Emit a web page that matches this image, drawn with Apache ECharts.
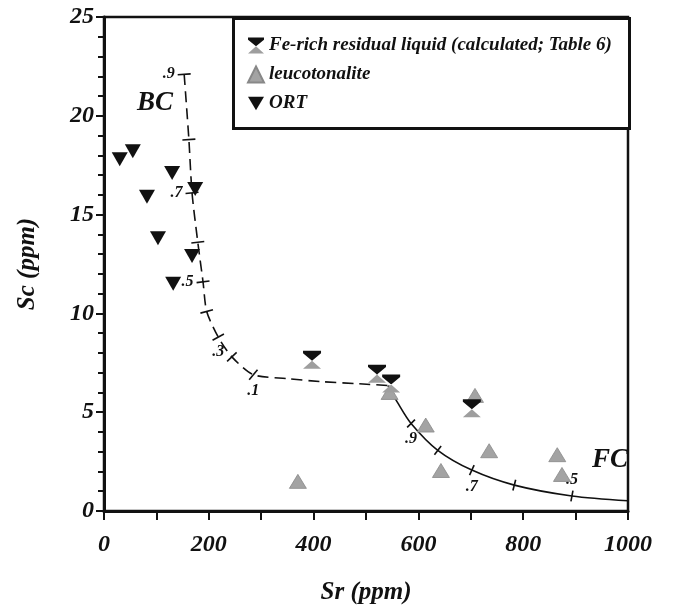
<!DOCTYPE html>
<html>
<head>
<meta charset="utf-8">
<script src="https://cdn.jsdelivr.net/npm/echarts@6/dist/echarts.min.js"></script>
<style>
  html, body { margin: 0; padding: 0; background: #fff; }
  #chart { width: 675px; height: 610px; }
</style>
</head>
<body>
<div id="chart"></div>
<script>
  'use strict'

  // Sr (ppm), Sc (ppm)
  var feRich = [[397, 7.65], [521, 6.95], [548, 6.45], [702, 5.2]];
  var leuco = [[708, 5.85], [614, 4.35], [735, 3.05], [643, 2.05], [370, 1.5], [865, 2.85], [874, 1.85], [545, 6.0]];
  var ort = [[30, 17.8], [55, 18.2], [82, 15.9], [103, 13.8], [130, 17.1], [174, 16.3], [168, 12.9], [132, 11.5]];

  // model curves: F values at the tick marks
  var bcF = ['.9', '.8', '.7', '.6', '.5', '.4', '.3', '.2', '.1'];
  var bcTicks = [[153, 22.1], [162, 18.8], [168, 16.1], [179, 13.6], [189, 11.6], [196, 10.1], [218, 8.8], [244, 7.8], [285, 6.9]];
  var bcTail = [[350, 6.7], [412, 6.55], [480, 6.45], [542, 6.35]];
  var fcF = ['.9', '.8', '.7', '.6', '.5'];
  var fcTicks = [[586, 4.43], [637, 3.07], [702, 2.07], [783, 1.31], [893, 0.76]];
  var fcHead = [[542, 6.35], [560, 5.5]];
  var fcTail = [[1000, 0.52]];

  var serif = '"Liberation Serif", "DejaVu Serif", serif';
  var G = { left: 104, right: 47, top: 17, bottom: 97 };
  var pxX = (675 - G.left - G.right) / 1000;
  var pxY = (610 - G.top - G.bottom) / 25;

  // short bar perpendicular to the curve at each tick
  function tickAngle(pts, i) {
    var a = pts[Math.max(i - 1, 0)], b = pts[Math.min(i + 1, pts.length - 1)];
    var dx = (b[0] - a[0]) * pxX, dy = (b[1] - a[1]) * pxY;
    return Math.atan2(dy, dx) * 180 / Math.PI + 90;
  }

  function tickData(pts, names, labelPos) {
    return pts.map(function (p, i) {
      var pos = labelPos[names[i]];
      return {
        value: p,
        symbolRotate: tickAngle(pts, i),
        label: { show: !!pos, position: pos || 'left', formatter: names[i] }
      };
    });
  }

  var tickSymbol = 'path://M0,0 L12,0 L12,1.6 L0,1.6 Z';
  var downTri = 'path://M0,0 L12,0 L6,10 Z';
  var hourglass = 'path://M0,0 L12,0 L12,1.6 L6,6.6 L0,1.6 Z M6,6.6 L12,12 L0,12 Z';

  var tickLabel = { fontFamily: serif, fontStyle: 'italic', fontWeight: 'bold', fontSize: 16, color: '#111', distance: 3 };

  var option = {
    animation: false,
    grid: { left: G.left, right: G.right, top: G.top, bottom: G.bottom, show: true, borderColor: '#111', borderWidth: 2.5 },
    xAxis: {
      type: 'value', min: 0, max: 1000, interval: 200,
      name: 'Sr (ppm)', nameLocation: 'middle', nameGap: 69,
      nameTextStyle: { fontFamily: serif, fontStyle: 'italic', fontWeight: 'bold', fontSize: 25, color: '#111' },
      axisLine: { lineStyle: { color: '#111', width: 3 } },
      axisTick: { length: 9, lineStyle: { color: '#111', width: 2 } },
      minorTick: { show: true, splitNumber: 2, length: 9, lineStyle: { color: '#111', width: 2 } },
      splitLine: { show: false },
      axisLabel: {
        margin: 22, fontFamily: serif, fontStyle: 'italic', fontWeight: 'bold', fontSize: 24, color: '#111',
        formatter: function (v) { return String(v); }
      }
    },
    yAxis: {
      type: 'value', min: 0, max: 25, interval: 5,
      name: 'Sc (ppm)', nameLocation: 'middle', nameGap: 64, nameRotate: 90,
      nameTextStyle: { fontFamily: serif, fontStyle: 'italic', fontWeight: 'bold', fontSize: 25, color: '#111' },
      axisLine: { lineStyle: { color: '#111', width: 3 } },
      axisTick: { length: 8, lineStyle: { color: '#111', width: 2 } },
      minorTick: { show: true, splitNumber: 5, length: 6, lineStyle: { color: '#111', width: 2 } },
      splitLine: { show: false },
      axisLabel: { margin: 10, fontFamily: serif, fontStyle: 'italic', fontWeight: 'bold', fontSize: 24, color: '#111' }
    },
    legend: {
      orient: 'vertical', left: 242, top: 31, itemGap: 10,
      itemWidth: 16, itemHeight: 16, z: 10,
      data: ['Fe-rich residual liquid (calculated; Table 6)', 'leucotonalite', 'ORT'],
      textStyle: { fontFamily: serif, fontStyle: 'italic', fontWeight: 'bold', fontSize: 19, color: '#111' }
    },
    graphic: [
      { type: 'rect', left: 232, top: 17, z: 5, shape: { width: 396, height: 110 }, style: { fill: '#fff', stroke: '#111', lineWidth: 3 } },
      { type: 'text', left: 137, top: 90, z: 5, style: { text: 'BC', font: 'italic bold 27px ' + serif, fill: '#111' } },
      { type: 'text', left: 592, top: 447, z: 5, style: { text: 'FC', font: 'italic bold 27px ' + serif, fill: '#111' } }
    ],
    series: [
      {
        name: 'BC', type: 'line', data: bcTicks.concat(bcTail), smooth: 0.25, showSymbol: false,
        lineStyle: { color: '#111', width: 1.6, type: [11, 6] }, z: 2, silent: true
      },
      {
        name: 'BC ticks', type: 'scatter', symbol: tickSymbol, symbolSize: [13, 1.6],
        data: tickData(bcTicks, bcF, { '.9': 'left', '.7': 'left', '.5': 'left', '.3': 'bottom', '.1': 'bottom' }),
        itemStyle: { color: '#111', opacity: 1 }, label: tickLabel, z: 3
      },
      {
        name: 'FC', type: 'line', data: fcHead.concat(fcTicks, fcTail), smooth: 0.3, showSymbol: false,
        lineStyle: { color: '#111', width: 1.6 }, z: 2, silent: true
      },
      {
        name: 'FC ticks', type: 'scatter', symbol: tickSymbol, symbolSize: [11, 1.6],
        data: tickData(fcTicks, fcF, { '.9': 'bottom', '.7': 'bottom', '.5': 'top' }),
        itemStyle: { color: '#111', opacity: 1 }, label: tickLabel, z: 3
      },
      {
        name: 'leucotonalite', type: 'scatter', symbol: 'triangle', symbolSize: [17, 14], data: leuco,
        itemStyle: { color: '#a3a3a3', borderColor: '#888', borderWidth: 0.8, opacity: 1 }, z: 4
      },
      {
        name: 'Fe-rich residual liquid (calculated; Table 6)', type: 'scatter', symbol: hourglass, symbolSize: [18, 18], data: feRich,
        itemStyle: {
          opacity: 1,
          color: new echarts.graphic.LinearGradient(0, 0, 0, 1, [
            { offset: 0, color: '#111' }, { offset: 0.55, color: '#111' },
            { offset: 0.55, color: '#9e9e9e' }, { offset: 1, color: '#9e9e9e' }
          ])
        }, z: 5
      },
      {
        name: 'ORT', type: 'scatter', symbol: downTri, symbolSize: [16, 14], data: ort,
        itemStyle: { color: '#111', opacity: 1 }, z: 6
      }
    ]
  };

  var chart = echarts.init(document.getElementById('chart'));
  chart.setOption(option);
</script>
</body>
</html>
